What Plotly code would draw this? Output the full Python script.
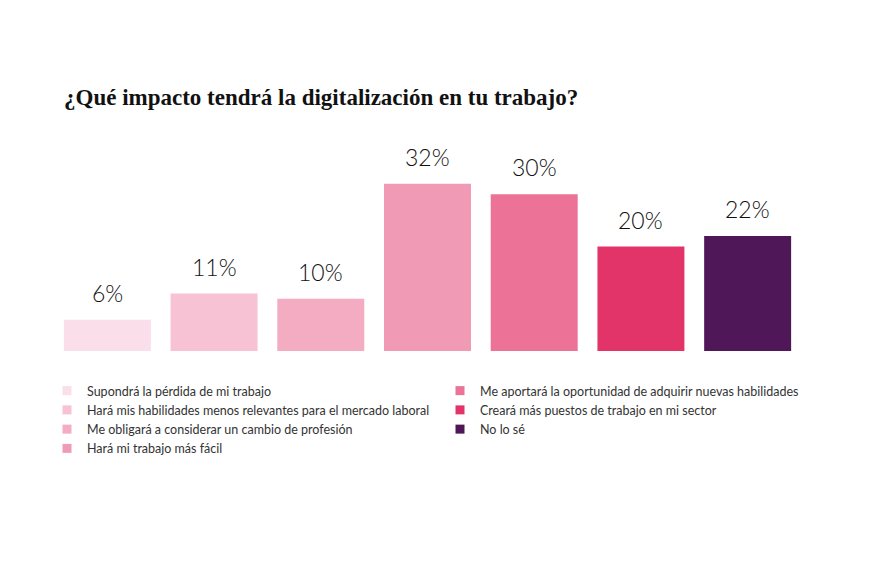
import plotly.graph_objects as go

categories = [
    "Supondrá la pérdida de mi trabajo",
    "Hará mis habilidades menos relevantes para el mercado laboral",
    "Me obligará a considerar un cambio de profesión",
    "Hará mi trabajo más fácil",
    "Me aportará la oportunidad de adquirir nuevas habilidades",
    "Creará más puestos de trabajo en mi sector",
    "No lo sé",
]
values = [6, 11, 10, 32, 30, 20, 22]
colors = ["#FADEE9", "#F7C2D3", "#F4ACC3", "#F19AB6", "#EC7297", "#E3346A", "#4F1757"]
title_text = "¿Qué impacto tendrá la digitalización en tu trabajo?"

W, H = 877, 568
positions = list(range(len(categories)))
fig = go.Figure()

fig.add_trace(go.Bar(
    x=positions, y=values, marker=dict(color=colors, line=dict(width=0)),
    showlegend=False, hoverinfo="skip", width=0.815,
    text=[f"{v}%" for v in values], textposition="none",
))

for i, (cat, val, col) in enumerate(zip(categories, values, colors)):
    fig.add_trace(go.Scatter(
        x=[None], y=[None], mode="markers", name=cat,
        marker=dict(symbol="square", size=9, color=col),
        legend="legend" if i < 4 else "legend2",
    ))
    fig.add_annotation(
        x=i, y=val, text=f"{val}%", showarrow=False, yanchor="middle", yshift=27,
        font=dict(family="Lato", size=23, color="#111111", weight=300),
    )

fig.update_layout(
    width=W, height=H,
    paper_bgcolor="white", plot_bgcolor="white",
    margin=dict(l=46, r=84, t=122, b=225, autoexpand=False),
    title=dict(
        text=title_text, x=56 / W, xref="container", xanchor="left",
        y=1 - 89 / H, yref="container", yanchor="middle",
        font=dict(family="Liberation Serif", size=23, color="#111111", weight="bold"),
    ),
    xaxis=dict(type="linear", range=[-0.5, 6.5], visible=False, fixedrange=True),
    yaxis=dict(type="linear", range=[0, 42.3], visible=False, fixedrange=True),
    barmode="overlay",
    legend=dict(
        x=39 / W, xref="container", xanchor="left",
        y=1 - 368 / H, yref="container", yanchor="top",
        orientation="v", bgcolor="rgba(0,0,0,0)",
        font=dict(family="Lato", size=12.5, color="#333333"),
        tracegroupgap=0,
    ),
    legend2=dict(
        x=432 / W, xref="container", xanchor="left",
        y=1 - 368 / H, yref="container", yanchor="top",
        orientation="v", bgcolor="rgba(0,0,0,0)",
        font=dict(family="Lato", size=12.5, color="#333333"),
        tracegroupgap=0,
    ),
)

fig.write_html("out.html")
